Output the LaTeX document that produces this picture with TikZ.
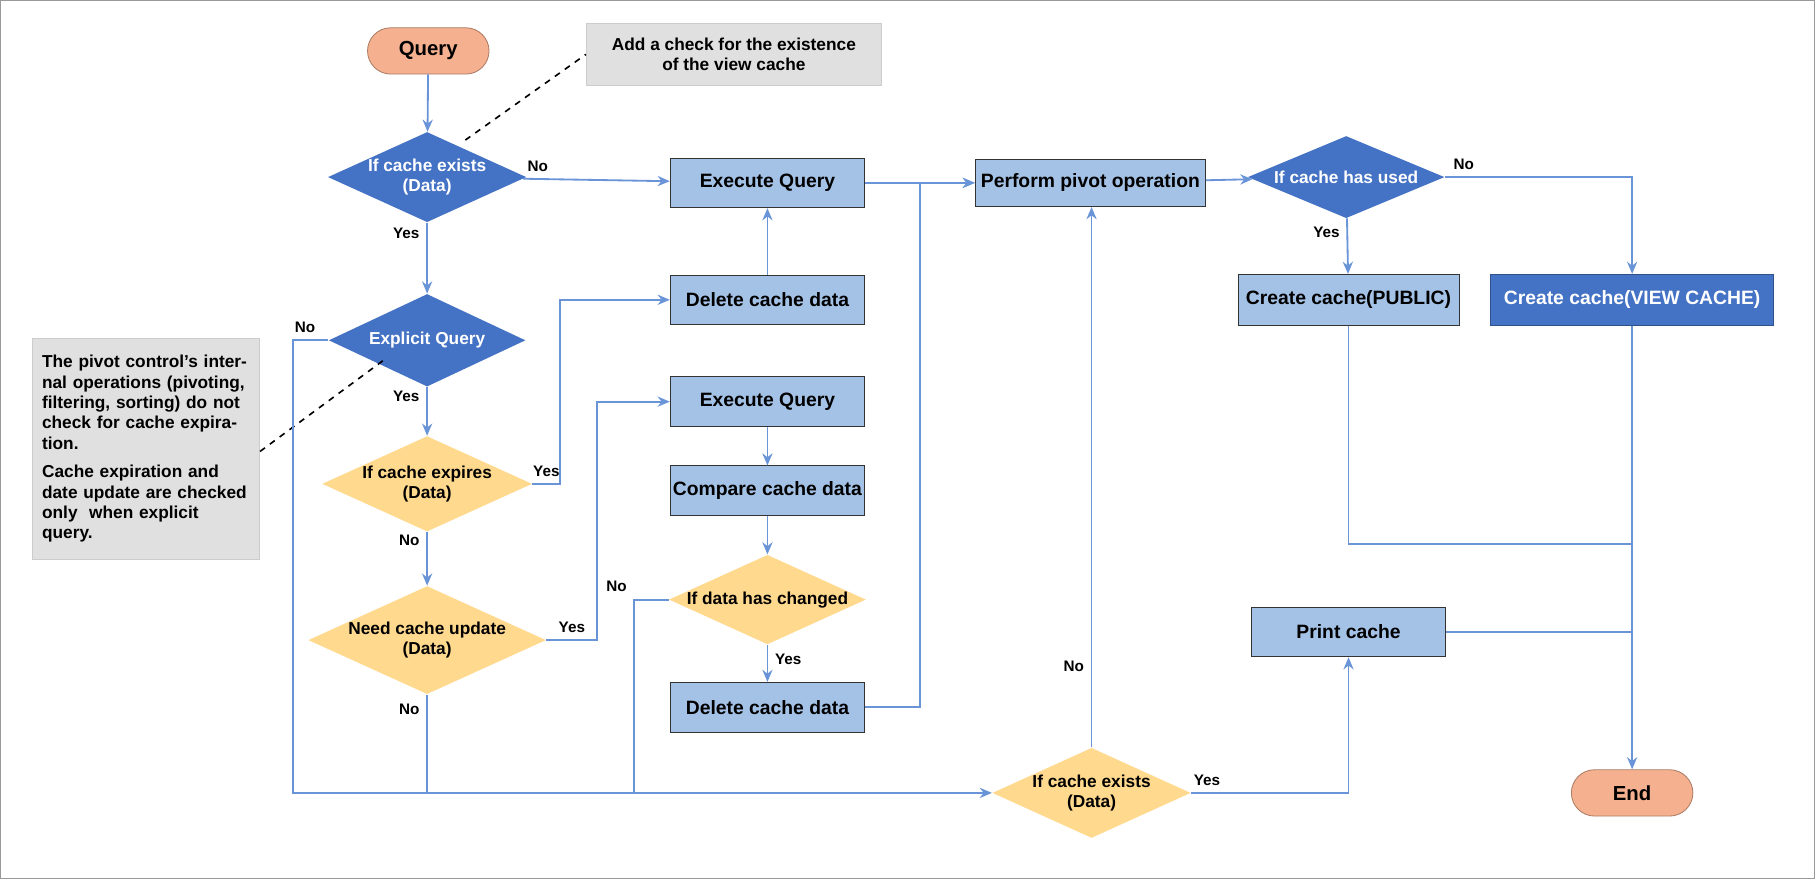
\documentclass[tikz,border=0pt]{standalone}
\usepackage{fontspec}
\setmainfont{Liberation Sans}
\usetikzlibrary{shapes.geometric,arrows.meta}
\definecolor{dblue}{HTML}{4472C4}
\definecolor{lblue}{HTML}{A4C2E6}
\definecolor{yel}{HTML}{FFD98E}
\definecolor{sal}{HTML}{F4B08F}
\definecolor{ln}{HTML}{6A94D8}
\definecolor{gnote}{HTML}{E0E0E0}
\begin{document}
\begin{tikzpicture}[x=0.02cm,y=-0.02cm,
  every node/.style={font=\fontsize{8.5}{10}\selectfont\bfseries, align=center},
  box/.style={rectangle, draw=black!80, fill=lblue, minimum width=3.36cm, minimum height=0.86cm, inner sep=1pt},
  dbox/.style={box, fill=dblue, text=white, draw=dblue!70!black},
  dia/.style={diamond, aspect=2.2, minimum width=3.4cm, minimum height=1.52cm, inner sep=0pt},
  ddia/.style={dia, fill=dblue, text=white},
  ydia/.style={dia, fill=yel, text=black},
  pill/.style={rectangle, rounded corners=0.4cm, draw=sal!70!black, fill=sal, minimum width=2.1cm, minimum height=0.8cm},
  note/.style={rectangle, fill=gnote, draw=black!20},
  con/.style={draw=ln, line width=0.9pt, -{Stealth[length=6pt,width=5pt]}},
  lin/.style={draw=ln, line width=0.9pt},
  lab/.style={font=\fontsize{7.5}{9}\selectfont\bfseries}]
\draw[black!40, fill=white] (0.5,0.5) rectangle (1567.5,758.5);
\useasboundingbox (0,0) rectangle (1568,759);

\node[pill] (q) at (370,44) {\fontsize{10}{12}\selectfont Query};
\node[note, minimum width=5.1cm, minimum height=1.06cm] (n1) at (634,47) {Add a check for the existence\\of the view cache};
\node[ddia] (d1) at (369,153) {If cache exists\\(Data)};
\node[box] (e1) at (663,158) {\fontsize{9.5}{11}\selectfont Execute Query};
\node[box, minimum width=3.98cm, minimum height=0.82cm] (pv) at (942,158) {\fontsize{9.5}{11}\selectfont Perform pivot operation};
\node[ddia, minimum height=1.42cm] (d2) at (1163,153) {If cache has used};
\node[box, minimum width=3.82cm, minimum height=0.88cm] (cp) at (1165,259) {\fontsize{9.5}{11}\selectfont Create cache(PUBLIC)};
\node[dbox, minimum width=4.9cm, minimum height=0.88cm] (cv) at (1410,259) {\fontsize{9.5}{11}\selectfont Create cache(VIEW CACHE)};
\node[ddia, minimum height=1.6cm] (d3) at (369,294) {Explicit Query};
\node[box] (dc1) at (663,259) {\fontsize{9.5}{11}\selectfont Delete cache data};
\node[note, minimum width=3.92cm, minimum height=3.82cm, align=left, text width=3.6cm, anchor=north west] (n2) at (28,292) {The pivot control's internal operations (pivoting, filtering, sorting) do not check for cache expiration.\\[4pt]Cache expiration and date update are checked only\ \ when explicit query.};
\node[ydia] (d4) at (369,418) {If cache expires\\(Data)};
\node[box] (e2) at (663,347) {\fontsize{9.5}{11}\selectfont Execute Query};
\node[box] (cmp) at (663,424) {\fontsize{9.5}{11}\selectfont Compare cache data};
\node[ydia] (d5) at (663,518) {If data has changed};
\node[ydia] (d6) at (369,553) {Need cache update\\(Data)};
\node[box] (dc2) at (663,611) {\fontsize{9.5}{11}\selectfont Delete cache data};
\node[box] (pc) at (1165,546) {\fontsize{9.5}{11}\selectfont Print cache};
\node[ydia] (d7) at (943,685) {If cache exists\\(Data)};
\node[pill] (end) at (1410,685) {\fontsize{10}{12}\selectfont End};

\draw[dashed, thick] (402,121) -- (n1.west);
\draw[dashed, thick] (n2.east |- 0,390) -- (333,310);

\draw[con] (q) -- (d1);
\draw[con] (d1) -- node[lab, above, pos=0.1] {No} (e1);
\draw[con] (d1) -- node[lab, left, pos=0.15] {Yes} (d3);
\draw[con] (d3) -- node[lab, left, pos=0.2] {Yes} (d4);
\draw[con] (d4) -- node[lab, left, pos=0.15] {No} (d6);
\coordinate (j1) at (253,685);
\draw[con] (d3.west) -- (253,294) node[lab, above, pos=1, xshift=6] {No} -- (j1) -- (d7.west);
\draw[lin] (d6.south) -- node[lab, left, pos=0.15] {No} (369,685);
\draw[con] (d4.east) -- node[lab, above] {Yes} (484,418) -- (484,259) -- (dc1.west);
\draw[con] (dc1) -- (e1);
\draw[con] (d6.east) -- node[lab, above] {Yes} (516,553) -- (516,347) -- (e2.west);
\draw[con] (e2) -- (cmp);
\draw[con] (cmp) -- (d5);
\draw[con] (d5) -- node[lab, right, pos=0.4] {Yes} (dc2);
\draw[lin] (d5.west) -- (548,518) node[lab, above left, pos=1] {No} -- (548,685);
\draw[con] (dc2.east) -- (795,611) -- (795,158) -- (pv.west);
\draw[con] (e1) -- (pv);
\draw[con] (pv) -- (d2);
\draw[con] (d2) -- node[lab, left, pos=0.25] {Yes} (cp);
\draw[con] (d2.east) -- node[lab, above, pos=0.1] {No} (1410,153) -- (cv.north);
\draw[con] (d7.north) -- node[lab, left, pos=0.15] {No} (pv.south -| d7.north);
\draw[con] (d7.east) -- node[lab, above, pos=0.1] {Yes} (1165,685) -- (pc.south);
\draw[lin] (cp.south) -- (1165,470) -- (1410,470);
\draw[lin] (pc.east) -- (1410,546);
\draw[con] (cv) -- (end);
\end{tikzpicture}
\end{document}
